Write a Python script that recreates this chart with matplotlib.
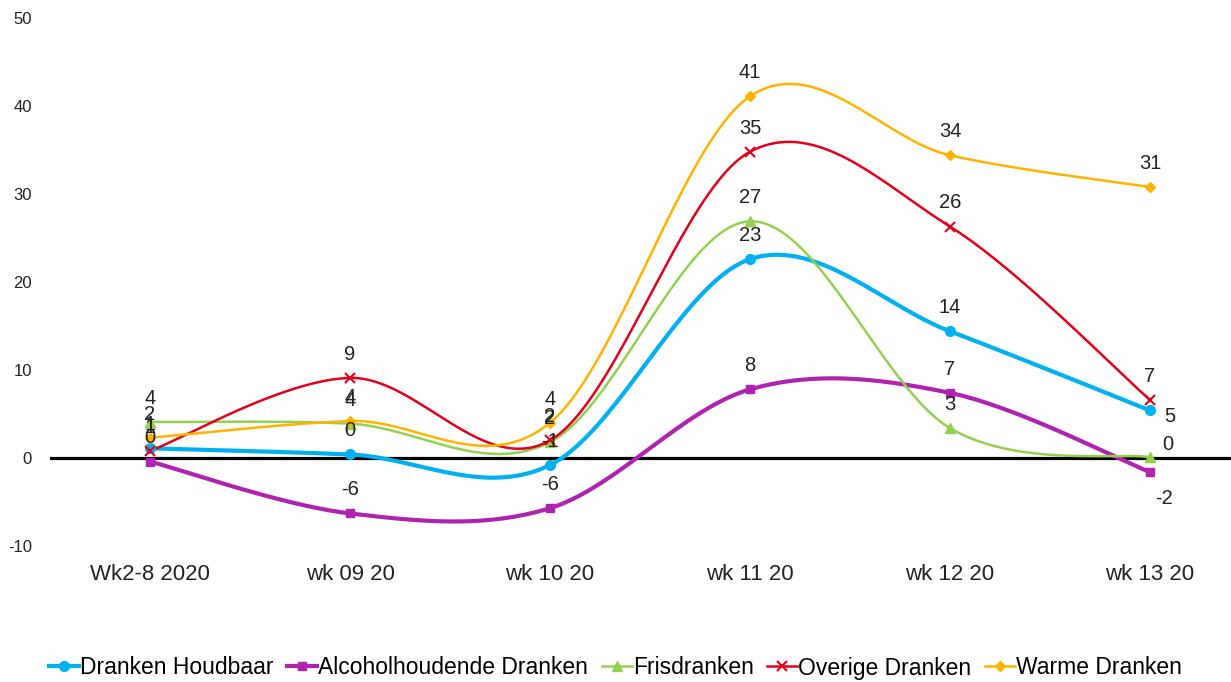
import numpy as np
import matplotlib
matplotlib.use('Agg')
import matplotlib.pyplot as plt
from matplotlib.lines import Line2D

plt.rcParams['font.family'] = ['Liberation Sans', 'DejaVu Sans']
plt.rcParams['axes.unicode_minus'] = False

weeks = ['Wk2-8 2020', 'wk 09 20', 'wk 10 20', 'wk 11 20', 'wk 12 20', 'wk 13 20']

houdbaar = [1.1, 0.4, -0.8, 22.6, 14.4, 5.4]
alcohol = [-0.4, -6.3, -5.7, 7.8, 7.4, -1.6]
fris = [4.1, 3.9, 1.8, 26.9, 3.4, 0.1]
overig = [0.8, 9.1, 2.0, 34.8, 26.3, 6.6]
warm = [2.3, 4.2, 4.0, 41.1, 34.4, 30.8]

series = [
    ('Dranken Houdbaar', houdbaar, '#00B0F0', 'o', 3.0, 7),
    ('Alcoholhoudende Dranken', alcohol, '#B023B0', 's', 3.0, 6),
    ('Frisdranken', fris, '#92D050', '^', 1.8, 7),
    ('Overige Dranken', overig, '#E3001B', 'x', 1.8, 7),
    ('Warme Dranken', warm, '#FFB300', 'D', 1.8, 5),
]

# label offsets (points) that differ from the default "above"
label_shift = {
    ('Dranken Houdbaar', 5): (14, -4),
    ('Frisdranken', 5): (13, 9),
    ('Alcoholhoudende Dranken', 5): (10, -19),
}


def smooth(xs, ys, n=40):
    # Catmull-Rom style bezier through every point
    px = np.concatenate([[xs[0]], xs, [xs[-1]]])
    py = np.concatenate([[ys[0]], ys, [ys[-1]]])
    outx, outy = [], []
    for i in range(1, len(px) - 2):
        p0 = np.array([px[i], py[i]])
        p3 = np.array([px[i + 1], py[i + 1]])
        c1 = p0 + (p3 - np.array([px[i - 1], py[i - 1]])) / 6.0
        c2 = p3 - (np.array([px[i + 2], py[i + 2]]) - p0) / 6.0
        t = np.linspace(0, 1, n)[:, None]
        pts = ((1 - t) ** 3) * p0 + 3 * ((1 - t) ** 2) * t * c1 + 3 * (1 - t) * t ** 2 * c2 + t ** 3 * p3
        outx.extend(pts[:, 0])
        outy.extend(pts[:, 1])
    return outx, outy


fig = plt.figure(figsize=(12.31, 6.82), dpi=100)
ax = fig.add_axes([50 / 1231, 136 / 682, 1200 / 1231, 528 / 682])

x = np.arange(len(weeks), dtype=float)
ax.axhline(0, color='black', lw=2.3, zorder=1)

handles = []
for name, vals, col, mk, lw, ms in series:
    sx, sy = smooth(x, np.array(vals, dtype=float))
    ax.plot(sx, sy, color=col, lw=lw, zorder=2)
    ax.plot(x, vals, ls='none', marker=mk, color=col, markersize=ms,
            markeredgewidth=1.5 if mk == 'x' else 1, zorder=3)
    handles.append(Line2D([], [], color=col, lw=lw, marker=mk, markersize=ms,
                          markeredgewidth=1.5 if mk == 'x' else 1))

for name, vals, col, mk, lw, ms in series:
    for i, v in enumerate(vals):
        dx, dy = label_shift.get((name, i), (0, 17))
        ax.annotate(str(round(v)), (x[i], v), xytext=(dx, dy), textcoords='offset points',
                    ha='center', va='center', fontsize=14.5, color='#222222', zorder=5)

ax.set_xlim(-0.5, 5.5)
ax.set_ylim(-10, 50)
ax.set_yticks(range(-10, 51, 10))
ax.set_xticks(x)
ax.set_xticklabels(weeks, fontsize=16, color='#222222')
ax.tick_params(axis='x', length=0, pad=13)
ax.tick_params(axis='y', length=0, pad=13, labelsize=12, labelcolor='#222222')
for s in ax.spines.values():
    s.set_visible(False)

fig.legend(handles, [s[0] for s in series], loc='center', bbox_to_anchor=(0.5, 14 / 682),
           ncol=5, frameon=False, fontsize=16.5, handlelength=1.3, handletextpad=0.05,
           columnspacing=0.6, borderpad=0)

fig.savefig('out.png', dpi=100)
